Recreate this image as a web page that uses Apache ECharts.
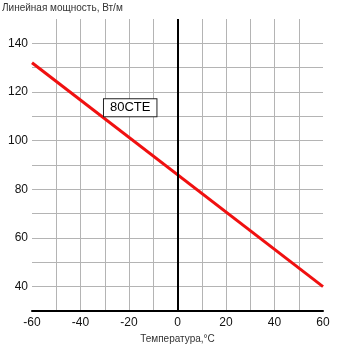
<!DOCTYPE html>
<html><head><meta charset="utf-8">
<script src="https://cdn.jsdelivr.net/npm/echarts@6/dist/echarts.min.js"></script>
<style>html,body{margin:0;padding:0;background:#fff}#c{width:350px;height:349px}</style>
</head><body><div id="c"></div>
<script>
const temps = [-60, 60];
const power = [132, 40];
const seriesName = '80CTE';
const labelPos = [-19.5, 113.5];
const yTitle = 'Линейная мощность, Вт/м';
const xTitle = 'Температура,°C';

const chart = echarts.init(document.getElementById('c'));
chart.setOption({
  animation: false,
  grid: {left: 32, right: 27, top: 19, bottom: 38},
  graphic: [{type: 'text', left: 2, top: 3, style: {text: yTitle, fontSize: 10, fontFamily: 'Liberation Sans, Arial', fill: '#333'}}],
  xAxis: {
    type: 'value', min: -60, max: 60, interval: 10,
    name: xTitle, nameLocation: 'middle', nameGap: 18,
    nameTextStyle: {fontSize: 10, color: '#333', fontFamily: 'Liberation Sans, Arial'},
    axisLine: {lineStyle: {color: '#000', width: 2}},
    axisTick: {show: false},
    axisLabel: {fontSize: 12, color: '#111', margin: 6, fontFamily: 'Liberation Sans, Arial',
      formatter: v => (v % 20 === 0 ? String(v) : '')},
    splitLine: {show: true, showMinLine: false, showMaxLine: false, lineStyle: {color: '#b4b4b4', width: 1}}
  },
  yAxis: {
    type: 'value', min: 30, max: 150, interval: 10,
    axisLine: {show: false}, axisTick: {show: false},
    axisLabel: {fontSize: 12, color: '#111', margin: 4, fontFamily: 'Liberation Sans, Arial',
      formatter: v => (v % 20 === 0 ? String(v) : '')},
    splitLine: {show: true, showMinLine: false, showMaxLine: false, lineStyle: {color: '#b4b4b4', width: 1}}
  },
  series: [{
    name: seriesName, type: 'line', symbol: 'none',
    data: temps.map((t, i) => [t, power[i]]),
    lineStyle: {color: '#f01010', width: 3},
    markLine: {silent: true, symbol: 'none', label: {show: false},
      lineStyle: {color: '#000', width: 2, type: 'solid'}, data: [{xAxis: 0}]},
    markPoint: {symbol: 'rect', symbolSize: 0, data: [{coord: labelPos}],
      label: {show: true, formatter: seriesName, fontSize: 13, color: '#000', fontFamily: 'Liberation Sans, Arial',
        backgroundColor: '#fff', borderColor: '#222', borderWidth: 1, padding: [3, 6, 1, 6]}}
  }]
});
</script></body></html>
